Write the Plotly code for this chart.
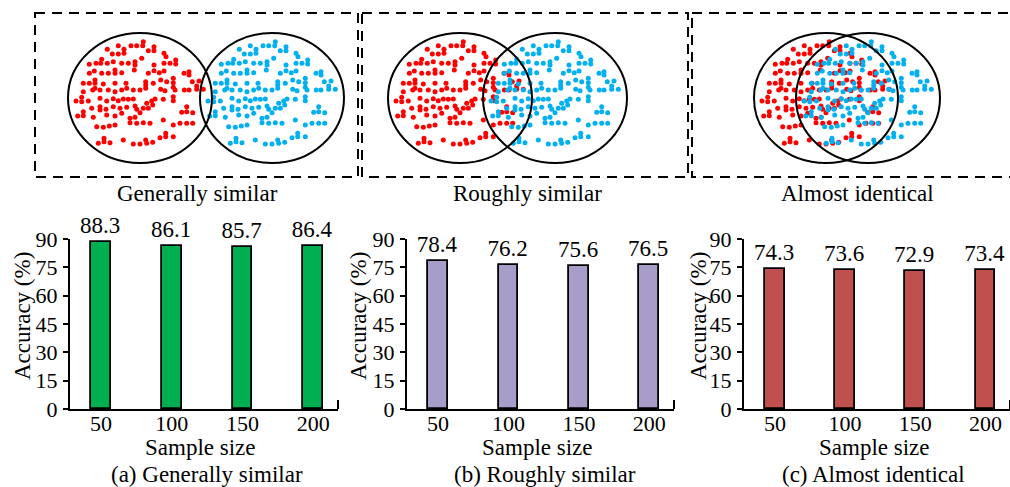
import plotly.graph_objects as go

# ---------------- data ----------------
SAMPLES = [50, 100, 150, 200]
ACC_A = [88.3, 86.1, 85.7, 86.4]
ACC_B = [78.4, 76.2, 75.6, 76.5]
ACC_C = [74.3, 73.6, 72.9, 73.4]
Y_TICKS = [0, 15, 30, 45, 60, 75, 90]
TOP_LABELS = ["Generally similar", "Roughly similar", "Almost identical"]
CAPTIONS = ["(a) Generally similar", "(b) Roughly similar", "(c) Almost identical"]

# dot pattern (pixel coords, read from the red cluster of the first panel)
PAT_X = [143.3, 142.7, 131, 136.7, 118.3, 124, 107.3, 148.3, 154, 154, 124, 118.3, 112.3, 164, 166,
         141.7, 101.7, 89.3, 96, 100.7, 107.3, 113.3, 121.7, 128.3, 135, 135, 154, 164, 170, 175.7,
         175.7, 89.3, 94.3, 101.7, 108.3, 115, 115, 121.7, 134.3, 148.3, 154, 159.3, 164, 184, 189,
         189, 83.3, 89.3, 95, 95, 95, 103.3, 115, 126, 145.7, 145.7, 145.7, 153.3, 160.7, 166.7,
         173.3, 173.3, 173.3, 192.3, 199, 83.3, 92.7, 100, 108.3, 115, 121.7, 126.7, 133.3, 140,
         160.7, 165, 175, 184.3, 189, 196.7, 196.7, 203.3, 76, 81.7, 81.7, 88.3, 100, 106.7, 113.3,
         118.3, 123.3, 128.3, 133.3, 146.7, 151.7, 155, 163.3, 173.3, 173.3, 77.7, 83.3, 83.3, 93.3,
         91.7, 100, 100, 106, 113.3, 120, 126.7, 135, 136.7, 143.3, 148.3, 152.7, 106.7, 115, 121.7,
         130, 135, 140, 186.7, 186.7, 181.7, 192.7, 96.7, 103.3, 109.3, 115, 130, 136.7, 143.3, 150,
         163.3, 173.3, 180, 186.7, 192.7, 98.3, 104, 104, 110, 123.3, 133.3, 140, 145.7, 146.7,
         152.7, 160, 165.7, 165.7, 173.3]
PAT_Y = [41.7, 45.7, 45.7, 45.7, 45.7, 49.3, 49.3, 50.7, 46.7, 50.7, 53.3, 54, 54, 53.3, 56.7,
         58.3, 59.3, 64.3, 63.3, 63.3, 63.3, 61.7, 63.3, 63.3, 61.7, 65, 65, 63.3, 63.3, 60,
         64, 73.3, 71, 73.3, 73.3, 70, 73.3, 72.7, 70, 73.3, 70.7, 72.7, 71, 73.3, 71.7,
         75, 83.3, 83.3, 80, 83.3, 88.3, 84, 83.3, 83.3, 81.7, 85, 88.3, 83.3, 80, 81.7,
         78.3, 82.7, 87.3, 81.7, 81, 91.7, 90, 90, 90, 91.7, 90, 88.3, 90, 90,
         89.3, 90.7, 90, 90, 90, 89.3, 86, 89.3, 101, 97.3, 101.7, 101, 98.3, 101, 98.7,
         100.7, 99, 99.3, 99, 103.3, 101, 99, 99.3, 96.7, 100.7, 116, 111.7, 115.7, 117.3,
         108.3, 106.7, 110, 109.3, 106.7, 108.3, 107.3, 106, 109.3, 108.3, 108.3, 105, 115, 116, 113.3,
         118.3, 117.3, 112.7, 106.7, 111.7, 112.3, 112.7, 126.7, 127.3, 126, 125, 122.7, 123.3, 122.7, 123.3,
         120, 125, 123.3, 123.3, 123.3, 143.3, 141.7, 138.3, 142.7, 140, 144, 144, 140, 143.3,
         142.3, 137.7, 136.7, 133.3, 136.7]
PAT_CX = 140  # pattern's own ellipse centre

# ---------------- layout geometry ----------------
W, H = 1010, 487
FONT = "Liberation Serif"
FS = 23
TFS = 22
GREEN, PURPLE, BRICK = "#00b050", "#a89cc8", "#c0504d"
RED, BLUE = "#ff0000", "#00b0f0"

ELL_CY, ELL_RX, ELL_RY = 98, 72, 65
PANELS_TOP = [  # (left centre, right centre, box x0, box x1, label x)
    (140, 272, 35, 358, 197),
    (460, 555, 362, 688, 527),
    (826, 868, 692, 1020, 857),
]
BOX_Y0, BOX_Y1 = 13, 177

PLOT_PX = [(70, 338), (407, 674), (744, 1010)]
Y_BOT, Y_TOP = 409, 239
XR = [28, 217.5]

fig = go.Figure()

bar_sets = [ACC_A, ACC_B, ACC_C]
colors = [GREEN, PURPLE, BRICK]
for i, (vals, col) in enumerate(zip(bar_sets, colors)):
    sfx = "" if i == 0 else str(i + 1)
    fig.add_trace(go.Bar(
        x=SAMPLES, y=vals, width=14,
        marker=dict(color=col, line=dict(color="black", width=1.8)),
        text=[f"{v:.1f}" for v in vals], textposition="outside",
        textfont=dict(family=FONT, size=FS, color="black"),
        constraintext="none", cliponaxis=False,
        xaxis="x" + sfx, yaxis="y" + sfx, showlegend=False, hoverinfo="skip",
    ))

# scatter clusters on a pixel-space overlay axis
for (lcx, rcx, bx0, bx1, lx) in PANELS_TOP:
    for cx, col in ((lcx, RED), (rcx, BLUE)):
        fig.add_trace(go.Scatter(
            x=[px + (cx - PAT_CX) for px in PAT_X], y=PAT_Y, mode="markers",
            marker=dict(color=col, size=5, line=dict(width=0)),
            xaxis="x4", yaxis="y4", showlegend=False, hoverinfo="skip",
        ))

layout = dict(
    width=W, height=H, margin=dict(l=0, r=0, t=0, b=0, pad=0, autoexpand=False),
    paper_bgcolor="white", plot_bgcolor="rgba(0,0,0,0)",
    font=dict(family=FONT, size=FS, color="black"),
    showlegend=False, bargap=0,
)
ydom = [1 - Y_BOT / H, 1 - Y_TOP / H]
for i, (x0, x1) in enumerate(PLOT_PX):
    sfx = "" if i == 0 else str(i + 1)
    layout["xaxis" + sfx] = dict(
        domain=[x0 / W, min(x1 / W, 1)], range=XR, anchor="y" + sfx,
        tickvals=SAMPLES, ticks="", showline=True, linecolor="black", linewidth=2,
        showgrid=False, zeroline=False, tickfont=dict(family=FONT, size=TFS),
        ticklabelstandoff=-6, automargin=False, fixedrange=True,
    )
    layout["yaxis" + sfx] = dict(
        domain=ydom, range=[0, 90], anchor="x" + sfx, tickvals=Y_TICKS,
        ticks="outside", ticklen=5, tickwidth=2, tickcolor="black",
        showline=True, linecolor="black", linewidth=2, showgrid=False,
        zeroline=False, tickfont=dict(family=FONT, size=TFS), ticklabelstandoff=1,
        automargin=False, fixedrange=True,
    )
layout["xaxis4"] = dict(domain=[0, 1], range=[0, W], anchor="y4", visible=False, fixedrange=True)
layout["yaxis4"] = dict(domain=[0, 1], range=[H, 0], anchor="x4", visible=False, fixedrange=True)

shapes = []
annotations = []
for (lcx, rcx, bx0, bx1, lx), lab in zip(PANELS_TOP, TOP_LABELS):
    shapes.append(dict(type="rect", xref="x4", yref="y4", x0=bx0, x1=bx1, y0=BOX_Y0, y1=BOX_Y1,
                       line=dict(color="black", width=2, dash="10px,7px")))
    for cx in (lcx, rcx):
        shapes.append(dict(type="circle", xref="x4", yref="y4",
                           x0=cx - ELL_RX, x1=cx + ELL_RX, y0=ELL_CY - ELL_RY, y1=ELL_CY + ELL_RY,
                           line=dict(color="black", width=2)))
    annotations.append(dict(text=lab, xref="x4", yref="y4", x=lx, y=193, showarrow=False,
                            xanchor="center", yanchor="middle", font=dict(family=FONT, size=FS)))

SAMPLE_X = [200, 537, 874]
CAP_X = [207, 545, 873]
ACC_X = [22, 358, 698]
for i in range(3):
    sfx = "" if i == 0 else str(i + 1)
    annotations.append(dict(text="Sample size", xref="x4", yref="y4", x=SAMPLE_X[i], y=447,
                            showarrow=False, xanchor="center", yanchor="middle",
                            font=dict(family=FONT, size=FS)))
    annotations.append(dict(text=CAPTIONS[i], xref="x4", yref="y4", x=CAP_X[i], y=474,
                            showarrow=False, xanchor="center", yanchor="middle",
                            font=dict(family=FONT, size=FS)))
    annotations.append(dict(text="Accuracy (%)", xref="x4", yref="y4", x=ACC_X[i], y=316,
                            showarrow=False, textangle=-90, xanchor="center", yanchor="middle",
                            font=dict(family=FONT, size=FS)))
    # small end tick on the x axis
    shapes.append(dict(type="line", xref="x" + sfx + " domain", yref="y" + sfx,
                       x0=1, x1=1, y0=0, y1=4.8, line=dict(color="black", width=2)))

layout["shapes"] = shapes
layout["annotations"] = annotations
fig.update_layout(**layout)
fig.write_html("out.html")
